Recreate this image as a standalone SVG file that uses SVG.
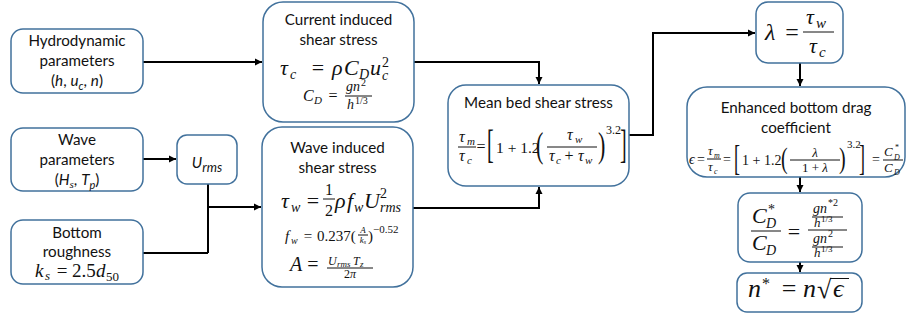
<svg xmlns="http://www.w3.org/2000/svg" width="907" height="320" viewBox="0 0 907 320">
<defs>
<style>
.box{fill:#fff;stroke:#41719C;stroke-width:1.5}
.lbl{font-family:Lato,"Open Sans",sans-serif;font-size:15.2px;fill:#111;text-anchor:middle}
.m{font-family:"Liberation Serif","Times New Roman",serif;fill:#111}
.i{font-style:italic}
.mid{text-anchor:middle}
.c{stroke:#000;stroke-width:2;fill:none}
.fl{stroke:#111;stroke-width:1}
</style>
<marker id="ah" markerUnits="userSpaceOnUse" markerWidth="8" markerHeight="8" refX="7" refY="4" orient="auto">
<path d="M0,0.5 L7,4 L0,7.5 z" fill="#000"/>
</marker>
</defs>
<rect width="907" height="320" fill="#fff"/>

<g id="connectors">
<path class="c" d="M143,62 H262" marker-end="url(#ah)"/>
<path class="c" d="M143,159 H176" marker-end="url(#ah)"/>
<path class="c" d="M208,184 V253 M143,253 H208"/>
<path class="c" d="M207,207 H261" marker-end="url(#ah)"/>
<path class="c" d="M414,62 H539 V84" marker-end="url(#ah)"/>
<path class="c" d="M413,208 H539 V187" marker-end="url(#ah)"/>
<path class="c" d="M629,135 H653 V33 H755" marker-end="url(#ah)"/>
<path class="c" d="M800,63 V86" marker-end="url(#ah)"/>
<path class="c" d="M800,177 V192" marker-end="url(#ah)"/>
<path class="c" d="M800,262 V272" marker-end="url(#ah)"/>
</g>

<g id="hydro">
<rect class="box" x="11" y="29" width="132" height="64" rx="12"/>
<text class="lbl" x="77" y="46">Hydrodynamic</text>
<text class="lbl" x="77" y="66">parameters</text>
<text class="lbl" x="77" y="86">(<tspan class="i">h</tspan>, <tspan class="i">u</tspan><tspan class="i" font-size="11" dy="4">c</tspan><tspan dy="-4">, </tspan><tspan class="i">n</tspan>)</text>
</g>

<g id="wave-params">
<rect class="box" x="11" y="128" width="132" height="63" rx="12"/>
<text class="lbl" x="77" y="145">Wave</text>
<text class="lbl" x="77" y="165">parameters</text>
<text class="lbl" x="77" y="185">(<tspan class="i">H</tspan><tspan class="i" font-family="Liberation Serif" font-size="11" dy="3">s</tspan><tspan dy="-3">, </tspan><tspan class="i">T</tspan><tspan class="i" font-size="11" dy="4">p</tspan><tspan dy="-4">)</tspan></text>
</g>

<g id="roughness">
<rect class="box" x="11" y="220" width="132" height="64" rx="12"/>
<text class="lbl" x="77" y="238">Bottom</text>
<text class="lbl" x="77" y="257">roughness</text>
<g class="m">
<text class="i" x="35" y="277" font-size="19">k</text>
<text class="i" x="45" y="280" font-size="13">s</text>
<text class="mid" x="62" y="277" font-size="19">=</text>
<text x="72" y="277" font-size="19">2.5</text>
<text class="i" x="96" y="277" font-size="19">d</text>
<text x="106" y="281" font-size="13">50</text>
</g>
</g>

<g id="urms">
<rect class="box" x="177" y="135" width="60" height="49" rx="10"/>
<text class="lbl i" x="207" y="168" font-size="18">U<tspan font-size="13" dy="4">rms</tspan></text>
</g>

<g id="current">
<rect class="box" x="263" y="2" width="151" height="120" rx="20"/>
<text class="lbl" x="338.5" y="25">Current induced</text>
<text class="lbl" x="338.5" y="45">shear stress</text>
<g class="m" font-size="22">
<text class="i" x="280" y="75">τ</text>
<text class="i" x="290" y="79" font-size="14">c</text>
<text class="mid" x="318" y="75">=</text>
<text class="i" x="332" y="75">ρ</text>
<text class="i" x="344" y="75">C</text>
<text class="i" x="359" y="79" font-size="14">D</text>
<text class="i" x="370" y="75">u</text>
<text class="i" x="382" y="80" font-size="14">c</text>
<text x="382" y="67" font-size="14">2</text>
</g>
<g class="m">
<text class="i" x="303" y="101" font-size="16">C</text>
<text class="i" x="314" y="104" font-size="11">D</text>
<text class="mid" x="333" y="101" font-size="16">=</text>
<text class="i" x="346" y="91" font-size="14">gn</text>
<text x="361" y="86" font-size="10">2</text>
<line class="fl" x1="345" y1="96" x2="372" y2="96"/>
<text class="i" x="347" y="109" font-size="14">h</text>
<text x="355" y="104" font-size="10">1/3</text>
</g>
</g>

<g id="wave-stress">
<rect class="box" x="262" y="127" width="151" height="160" rx="20"/>
<text class="lbl" x="337.5" y="153">Wave induced</text>
<text class="lbl" x="337.5" y="173">shear stress</text>
<g class="m" font-size="22">
<text class="i" x="281" y="208">τ</text>
<text class="i" x="291" y="212" font-size="14">w</text>
<text class="mid" x="313" y="208">=</text>
<text class="mid" x="329" y="195" font-size="16">1</text>
<line class="fl" x1="323" y1="199" x2="335" y2="199"/>
<text class="mid" x="329" y="216" font-size="16">2</text>
<text class="i" x="335" y="208">ρ</text>
<text class="i" x="347" y="208">f</text>
<text class="i" x="354" y="212" font-size="14">w</text>
<text class="i" x="364" y="208">U</text>
<text x="380" y="198" font-size="14">2</text>
<text class="i" x="380" y="212" font-size="14">rms</text>
</g>
<g class="m">
<text class="i" x="285" y="241" font-size="15">f</text>
<text class="i" x="291" y="244" font-size="10">w</text>
<text class="mid" x="308" y="241" font-size="15">=</text>
<text x="317" y="241" font-size="15">0.237(</text>
<text class="i mid" x="363" y="233" font-size="9">A</text>
<line class="fl" x1="358" y1="235" x2="368" y2="235" stroke-width="0.7"/>
<text class="i mid" x="363" y="243" font-size="9">k<tspan font-size="6" dy="1">s</tspan></text>
<text x="368" y="241" font-size="15">)</text>
<text x="373" y="233" font-size="11">−0.52</text>
</g>
<g class="m">
<text class="i" x="290" y="271" font-size="20">A</text>
<text class="mid" x="313" y="271" font-size="20">=</text>
<text class="i" x="328" y="265" font-size="12">U</text>
<text class="i" x="337" y="267" font-size="9">rms</text>
<text class="i" x="353" y="265" font-size="12">T</text>
<text class="i" x="360" y="267" font-size="9">z</text>
<line class="fl" x1="327" y1="268" x2="373" y2="268" stroke-width="0.8"/>
<text class="mid" x="350" y="278" font-size="12">2<tspan class="i">π</tspan></text>
</g>
</g>

<g id="mean">
<rect class="box" x="448" y="85" width="181" height="101" rx="18"/>
<text class="lbl" x="538.5" y="108">Mean bed shear stress</text>
<g class="m" font-size="16">
<text class="i" x="459" y="142">τ</text>
<text class="i" x="467" y="145" font-size="11">m</text>
<line class="fl" x1="458" y1="147" x2="476" y2="147"/>
<text class="i" x="459" y="161">τ</text>
<text class="i" x="467" y="164" font-size="11">c</text>
<text class="mid" x="481" y="152">=</text>
<text transform="translate(487,158) scale(1,2)" font-size="20">[</text>
<text x="496" y="153" font-size="15.5">1 + 1.2</text>
<text transform="translate(536,157) scale(1,1.6)" font-size="22">(</text>
<text class="i" x="567" y="140">τ</text>
<text class="i" x="575" y="143" font-size="11">w</text>
<line class="fl" x1="547" y1="147" x2="597" y2="147"/>
<text class="i" x="549" y="161">τ</text>
<text class="i" x="556" y="164" font-size="11">c</text>
<text class="mid" x="569" y="161">+</text>
<text class="i" x="578" y="161">τ</text>
<text class="i" x="585" y="164" font-size="11">w</text>
<text transform="translate(598,157) scale(1,1.6)" font-size="22">)</text>
<text x="606" y="134" font-size="12">3.2</text>
<text transform="translate(620,158) scale(1,2)" font-size="20">]</text>
</g>
</g>

<g id="lambda">
<rect class="box" x="756" y="2" width="87" height="61" rx="12"/>
<g class="m" font-size="24">
<text class="i" x="765" y="40">λ</text>
<text class="mid" x="792" y="40">=</text>
<text class="i" x="806" y="24" font-size="22">τ</text>
<text class="i" x="816" y="28" font-size="15">w</text>
<line class="fl" x1="803" y1="32" x2="834" y2="32" stroke-width="1.2"/>
<text class="i" x="809" y="53" font-size="22">τ</text>
<text class="i" x="819" y="57" font-size="15">c</text>
</g>
</g>

<g id="enhanced">
<rect class="box" x="687" y="87" width="218" height="90" rx="20"/>
<text class="lbl" x="796" y="113">Enhanced bottom drag</text>
<text class="lbl" x="796" y="133">coefficient</text>
<g class="m" font-size="14">
<text class="i" x="689" y="164">ϵ</text>
<text class="mid" x="701" y="164">=</text>
<text class="i" x="708" y="155" font-size="13">τ</text>
<text class="i" x="714" y="158" font-size="8">m</text>
<line class="fl" x1="707" y1="159" x2="721" y2="159" stroke-width="0.8"/>
<text class="i" x="708" y="171" font-size="13">τ</text>
<text class="i" x="714" y="174" font-size="8">c</text>
<text class="mid" x="727" y="164">=</text>
<text transform="translate(734,170) scale(1,2)" font-size="18">[</text>
<text x="742" y="165">1 + 1.2</text>
<text transform="translate(781,168) scale(1,1.5)" font-size="20">(</text>
<text class="i mid" x="815" y="157" font-size="13">λ</text>
<line class="fl" x1="790" y1="160" x2="840" y2="160" stroke-width="0.8"/>
<text class="mid" x="815" y="172" font-size="13">1 + <tspan class="i">λ</tspan></text>
<text transform="translate(839,168) scale(1,1.5)" font-size="20">)</text>
<text x="847" y="148" font-size="11">3.2</text>
<text transform="translate(859,170) scale(1,2)" font-size="18">]</text>
<text class="mid" x="876" y="164">=</text>
<text class="i" x="884" y="156" font-size="13">C</text>
<text x="895" y="150" font-size="8">*</text>
<text class="i" x="894" y="160" font-size="8">D</text>
<line class="fl" x1="883" y1="160" x2="903" y2="160" stroke-width="0.8"/>
<text class="i" x="884" y="172" font-size="13">C</text>
<text class="i" x="894" y="175" font-size="8">D</text>
</g>
</g>

<g id="ratio">
<rect class="box" x="738" y="193" width="124" height="69" rx="12"/>
<g class="m">
<text class="i" x="752" y="223" font-size="22">C</text>
<text x="768" y="214" font-size="14">*</text>
<text class="i" x="766" y="228" font-size="14">D</text>
<line class="fl" x1="751" y1="231" x2="781" y2="231" stroke-width="1.2"/>
<text class="i" x="752" y="250" font-size="22">C</text>
<text class="i" x="766" y="255" font-size="14">D</text>
<text class="mid" x="794" y="239" font-size="22">=</text>
<text class="i" x="813" y="213" font-size="14">gn</text>
<text x="828" y="206" font-size="10">*2</text>
<line class="fl" x1="812" y1="217" x2="843" y2="217" stroke-width="0.8"/>
<text class="i" x="814" y="227" font-size="13">h</text>
<text x="821" y="222" font-size="9">1/3</text>
<line class="fl" x1="808" y1="230" x2="847" y2="230" stroke-width="1.1"/>
<text class="i" x="813" y="243" font-size="14">gn</text>
<text x="828" y="237" font-size="10">2</text>
<line class="fl" x1="812" y1="247" x2="843" y2="247" stroke-width="0.8"/>
<text class="i" x="814" y="257" font-size="13">h</text>
<text x="821" y="252" font-size="9">1/3</text>
</g>
</g>

<g id="nstar">
<rect class="box" x="737" y="273" width="125" height="39" rx="10"/>
<g class="m" font-size="26">
<text class="i" x="748" y="297">n</text>
<text x="762" y="289" font-size="16">*</text>
<text class="mid" x="789" y="297">=</text>
<text class="i" x="803" y="297">n</text>
<text x="817" y="298">√</text>
<line class="fl" x1="830" y1="278.5" x2="849" y2="278.5" stroke-width="1.2"/>
<text class="i" x="833" y="297">ϵ</text>
</g>
</g>
</svg>
